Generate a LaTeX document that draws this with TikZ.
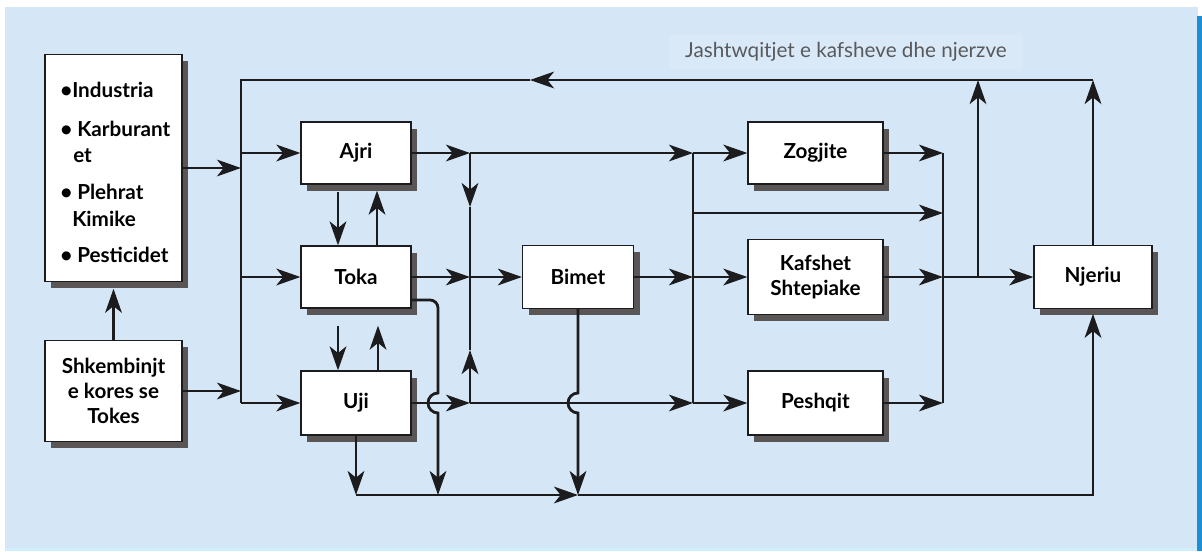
\documentclass[tikz,border=0pt]{standalone}
\usepackage{fontspec}
\setmainfont{Lato}
\usetikzlibrary{arrows.meta,shadows,calc}
\definecolor{bgblue}{HTML}{D5E7F6}
\definecolor{lblbg}{HTML}{D9E9F7}
\definecolor{barblue}{HTML}{1E8FD5}
\definecolor{strip}{HTML}{CDEFFF}
\definecolor{shadowgray}{HTML}{5A5656}
\definecolor{linecol}{HTML}{1C1C1E}
\definecolor{titlegray}{HTML}{58595D}
\begin{document}
\begin{tikzpicture}[x=0.75pt,y=-0.75pt,
  box/.style={draw=linecol, line width=0.9pt, fill=white, inner sep=0pt, align=center,
    font=\bfseries\fontsize{15.5}{18.75}\selectfont,
    drop shadow={shadow xshift=4.5pt, shadow yshift=-5pt, fill=shadowgray, opacity=1}},
  txt/.style={font=\bfseries\fontsize{15.5}{18.75}\selectfont, inner sep=0pt, anchor=base west},
  conn/.style={line width=2.1pt, draw=linecol},
  arr/.style={conn, -{Stealth[length=18pt,width=12.5pt,inset=5pt]}}]
\useasboundingbox (0,0) rectangle (1202,551);
\fill[white] (0,0) rectangle (1202,551);
\fill[bgblue] (5,7) rectangle (1198,548);
\fill[strip] (5,548) rectangle (1198,551);
\fill[barblue] (1197,16) rectangle (1202,551);

% title
\node[fill=lblbg, minimum width=266pt, minimum height=26pt, inner sep=0pt,
  text=titlegray, font=\fontsize{15.5}{18}\selectfont] (title) at (846,52) {Jashtwqitjet e kafsheve dhe njerzve};

% boxes
\node[box, minimum width=102.75pt, minimum height=170.25pt] (src) at (113.5,168) {};
\node[txt] (t1) at (60,97) {•Industria};
\node[txt] (t2) at (60,136) {• Karburant};
\node[txt] (t3) at (73,162) {et};
\node[txt] (t4) at (60,199) {• Plehrat};
\node[txt] (t5) at (72,226) {Kimike};
\node[txt] (t6) at (60,262) {• Pesticidet};
\node[box, minimum width=102.75pt, minimum height=75.75pt] (shk) at (113.5,391) {Shkembinjt\\e kores se\\Tokes};
\node[box, minimum width=82.5pt, minimum height=46.5pt] (ajri) at (356,153) {Ajri};
\node[box, minimum width=82.5pt, minimum height=46.5pt] (toka) at (356,277) {Toka};
\node[box, minimum width=82.5pt, minimum height=48pt] (uji) at (356,403) {Uji};
\node[box, minimum width=83.25pt, minimum height=47.25pt] (bimet) at (578,277) {Bimet};
\node[box, minimum width=101.25pt, minimum height=46.5pt] (zogjite) at (815.5,153) {Zogjite};
\node[box, minimum width=101.25pt, minimum height=56pt] (kafshet) at (815.5,277) {Kafshet\\Shtepiake};
\node[box, minimum width=101.25pt, minimum height=48pt] (peshqit) at (815.5,403) {Peshqit};
\node[box, minimum width=88.5pt, minimum height=47.25pt] (njeriu) at (1093,277) {Njeriu};

% junction coordinates
\coordinate (busTop) at (241,80);
\coordinate (busBot) at (241,403);
\coordinate (srcIn) at (241,168);
\coordinate (shkIn) at (241,391);
\coordinate (busA) at (241,153);
\coordinate (busT) at (241,277);
\coordinate (topArr) at (530,80);
\coordinate (nTop) at (1093,80);
\coordinate (j1) at (470,153);
\coordinate (j1d) at (470,207);
\coordinate (j1m) at (470,277);
\coordinate (j1u) at (470,350);
\coordinate (j1b) at (470,403);
\coordinate (j2) at (693,153);
\coordinate (j2m) at (693,213);
\coordinate (j2k) at (693,277);
\coordinate (j2b) at (693,403);
\coordinate (j3t) at (943,153);
\coordinate (j3m) at (943,213);
\coordinate (j3k) at (943,277);
\coordinate (j3b) at (943,403);
\coordinate (j4) at (978,277);
\coordinate (j4t) at (978,80);
\coordinate (tkout) at (411,300);
\coordinate (tkc) at (438,300);
\coordinate (h1t) at (438,393);
\coordinate (h2t) at (578,393);
\coordinate (b1) at (356,495);
\coordinate (b2) at (438,495);
\coordinate (b3) at (578,495);
\coordinate (b4) at (1093,495);

% connectors
\draw[arr] (nTop) -- (topArr);
\draw[conn] (topArr) -- (busTop) -- (busBot);
\draw[arr] (busBot) -- (uji.west);
\draw[arr] (src.east |- srcIn) -- (srcIn);
\draw[arr] (shk.east |- shkIn) -- (shkIn);
\draw[arr, shorten >=5pt] (shk.north) -- (src.south);
\draw[arr] (busA) -- (ajri.west);
\draw[arr] (busT) -- (toka.west);
\draw[arr] ($(ajri.south)+(-18,7)$) -- ($(toka.north)+(-18,0)$);
\draw[arr] ($(toka.north)+(21,0)$) -- ($(ajri.south)+(21,6)$);
\draw[arr] ($(toka.south)+(-18,17)$) -- ($(uji.north)+(-18,0)$);
\draw[arr] ($(uji.north)+(22,0)$) -- ($(toka.south)+(22,17)$);
\draw[arr] (ajri.east) -- (j1);
\draw[arr] (j1) -- (j2);
\draw[arr] (j2) -- (zogjite.west);
\draw[arr] (j1) -- (j1d);
\draw[conn] (j1d) -- (j1u);
\draw[arr] (j1b) -- (j1u);
\draw[arr] (toka.east) -- (j1m);
\draw[arr] (j1m) -- (bimet.west);
\draw[arr] (bimet.east) -- (j2k);
\draw[arr] (j2k) -- (kafshet.west);
\draw[conn] (j2) -- (j2b);
\draw[arr] (j2m) -- (j3m);
\draw[arr] (uji.east) -- (j1b);
\draw[arr] (j1b) -- (j2b);
\draw[arr] (j2b) -- (peshqit.west);
\draw[arr] (zogjite.east) -- (j3t);
\draw[arr] (kafshet.east) -- (j3k);
\draw[arr] (peshqit.east) -- (j3b);
\draw[conn] (j3t) -- (j3b);
\draw[arr] (j3k) -- (njeriu.west);
\draw[arr] (j4) -- (j4t);
\draw[arr] (njeriu.north) -- (nTop);
\draw[arr] (tkout) [rounded corners=6pt] -- (tkc) [sharp corners] -- (h1t)
  arc[start angle=90, end angle=270, radius=7.5pt] -- (b2);
\draw[arr] (bimet.south) -- (h2t) arc[start angle=90, end angle=270, radius=7.5pt] -- (b3);
\draw[arr] (uji.south) -- (b1);
\draw[arr] (b1) -- (b3);
\draw[arr, shorten >=3.5pt] (b3) -- (b4) -- (njeriu.south);
\end{tikzpicture}
\end{document}
